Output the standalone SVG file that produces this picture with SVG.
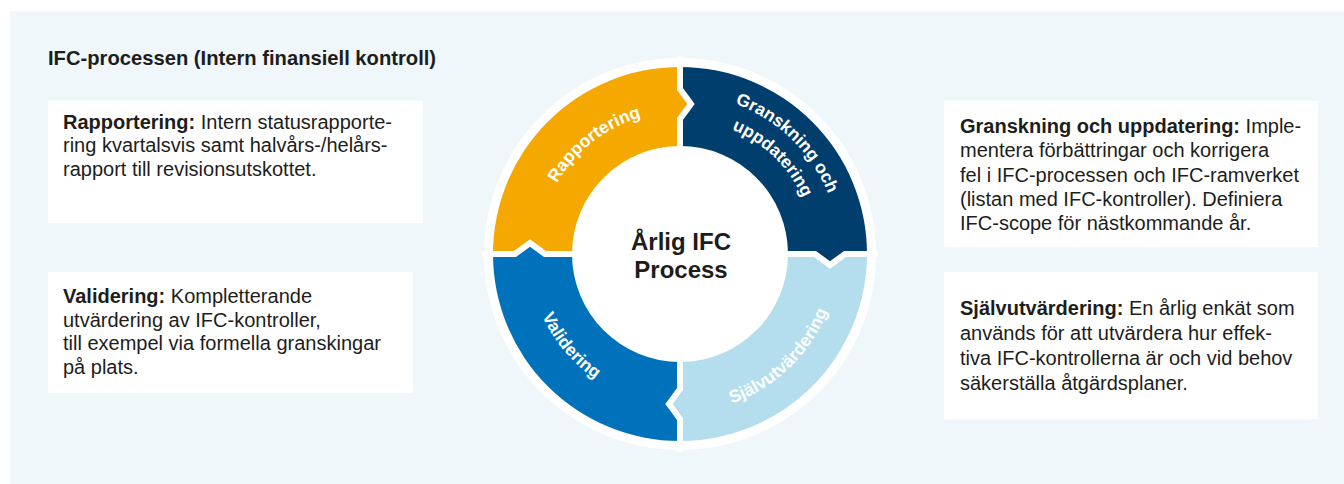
<svg xmlns="http://www.w3.org/2000/svg" width="1344" height="484" viewBox="0 0 1344 484">
  <style>
    .body { font-family: "Liberation Sans", Arial, sans-serif; font-size: 20px; fill: #1d1d1b; }
    .b { font-weight: 700; }
    .title { font-family: "Liberation Sans", Arial, sans-serif; font-size: 20.2px; font-weight: 700; fill: #1d1d1b; }
    .card { fill: #ffffff; }
    .seg-label { font-family: "Liberation Sans", Arial, sans-serif; font-size: 17.5px; font-weight: 700; fill: #ffffff; }
    .hub { font-family: "Liberation Sans", Arial, sans-serif; font-size: 24px; font-weight: 700; fill: #1d1d1b; text-anchor: middle; }
    .sep { fill: none; stroke: #ffffff; stroke-width: 6; stroke-linejoin: miter; }
  </style>
  <defs>
    <path id="arc-rapp" d="M539.4 273.8 A142 142 0 0 1 733.2 122.3"/>
    <path id="arc-gran1" d="M635.9 100.2 A160 160 0 0 1 835.2 292.7"/>
    <path id="arc-gran2" d="M642.8 124.2 A135 135 0 0 1 811.0 286.7"/>
    <path id="arc-sjalv" d="M636.5 405.9 A158 158 0 0 0 833.3 215.8"/>
    <path id="arc-valid" d="M538.1 202.4 A151 151 0 0 0 706.2 402.7"/>
  </defs>

  <!-- page and panel -->
  <rect x="0" y="0" width="1344" height="484" fill="#ffffff"/>
  <rect x="10" y="11" width="1334" height="473" fill="#eff7fb"/>

  <text class="title" x="48" y="65">IFC-processen (Intern finansiell kontroll)</text>

  <!-- description cards -->
  <g id="card-rapportering">
    <rect class="card" x="48" y="101" width="375" height="122"/>
    <text class="body">
      <tspan x="63" y="128.5"><tspan class="b">Rapportering:</tspan> Intern statusrapporte-</tspan>
      <tspan x="63" y="152">ring kvartalsvis samt halvårs-/helårs-</tspan>
      <tspan x="63" y="176">rapport till revisionsutskottet.</tspan>
    </text>
  </g>

  <g id="card-validering">
    <rect class="card" x="48" y="272" width="365" height="121"/>
    <text class="body">
      <tspan x="63" y="303"><tspan class="b">Validering:</tspan> Kompletterande</tspan>
      <tspan x="63" y="326.5">utvärdering av IFC-kontroller,</tspan>
      <tspan x="63" y="350">till exempel via formella granskingar</tspan>
      <tspan x="63" y="373.5">på plats.</tspan>
    </text>
  </g>

  <g id="card-granskning">
    <rect class="card" x="944" y="101" width="374" height="146"/>
    <text class="body">
      <tspan x="960" y="133"><tspan class="b">Granskning och uppdatering:</tspan> Imple-</tspan>
      <tspan x="960" y="157">mentera förbättringar och korrigera</tspan>
      <tspan x="960" y="181.5">fel i IFC-processen och IFC-ramverket</tspan>
      <tspan x="960" y="206">(listan med IFC-kontroller). Definiera</tspan>
      <tspan x="960" y="230">IFC-scope för nästkommande år.</tspan>
    </text>
  </g>

  <g id="card-sjalvutvardering">
    <rect class="card" x="944" y="272" width="374" height="147"/>
    <text class="body">
      <tspan x="960" y="315"><tspan class="b">Självutvärdering:</tspan> En årlig enkät som</tspan>
      <tspan x="960" y="340">används för att utvärdera hur effek-</tspan>
      <tspan x="960" y="365">tiva IFC-kontrollerna är och vid behov</tspan>
      <tspan x="960" y="390">säkerställa åtgärdsplaner.</tspan>
    </text>
  </g>

  <!-- process cycle -->
  <g id="cycle">
    <circle cx="680" cy="254" r="196" fill="#ffffff"/>

    <g id="seg-rapportering">
      <path fill="#f5a800" d="M493 254 A187 187 0 0 1 680 67 V89 L691 104 L680 119 V154 A100 100 0 0 0 580 254 H545 L530 243 L515 254 Z"/>
    </g>
    <g id="seg-granskning">
      <path fill="#003e6e" d="M680 67 A187 187 0 0 1 867 254 H845 L830 265 L815 254 H780 A100 100 0 0 0 680 154 V119 L691 104 L680 89 Z"/>
    </g>
    <g id="seg-sjalvutvardering">
      <path fill="#b4deee" d="M867 254 A187 187 0 0 1 680 441 V419 L669 404 L680 389 V354 A100 100 0 0 0 780 254 H815 L830 265 L845 254 Z"/>
    </g>
    <g id="seg-validering">
      <path fill="#0072bc" d="M680 441 A187 187 0 0 1 493 254 H515 L530 243 L545 254 H580 A100 100 0 0 0 680 354 V389 L669 404 L680 419 Z"/>
    </g>

    <!-- white cuts between the arrow segments -->
    <g id="connectors">
      <path class="sep" d="M680 56 V89 L691 104 L680 119 V150"/>
      <path class="sep" d="M878 254 H845 L830 265 L815 254 H784"/>
      <path class="sep" d="M680 452 V419 L669 404 L680 389 V358"/>
      <path class="sep" d="M482 254 H515 L530 243 L545 254 H576"/>
    </g>

    <circle cx="680" cy="254" r="108" fill="#ffffff"/>

    <text class="seg-label"><textPath href="#arc-rapp" startOffset="50%" text-anchor="middle">Rapportering</textPath></text>
    <text class="seg-label"><textPath href="#arc-gran1" startOffset="50%" text-anchor="middle">Granskning och</textPath></text>
    <text class="seg-label"><textPath href="#arc-gran2" startOffset="50%" text-anchor="middle">uppdatering</textPath></text>
    <text class="seg-label"><textPath href="#arc-sjalv" startOffset="50%" text-anchor="middle">Självutvärdering</textPath></text>
    <text class="seg-label"><textPath href="#arc-valid" startOffset="50%" text-anchor="middle">Validering</textPath></text>

    <g id="hub">
      <text class="hub" x="681" y="250">Årlig IFC</text>
      <text class="hub" x="681" y="278">Process</text>
    </g>
  </g>
</svg>
